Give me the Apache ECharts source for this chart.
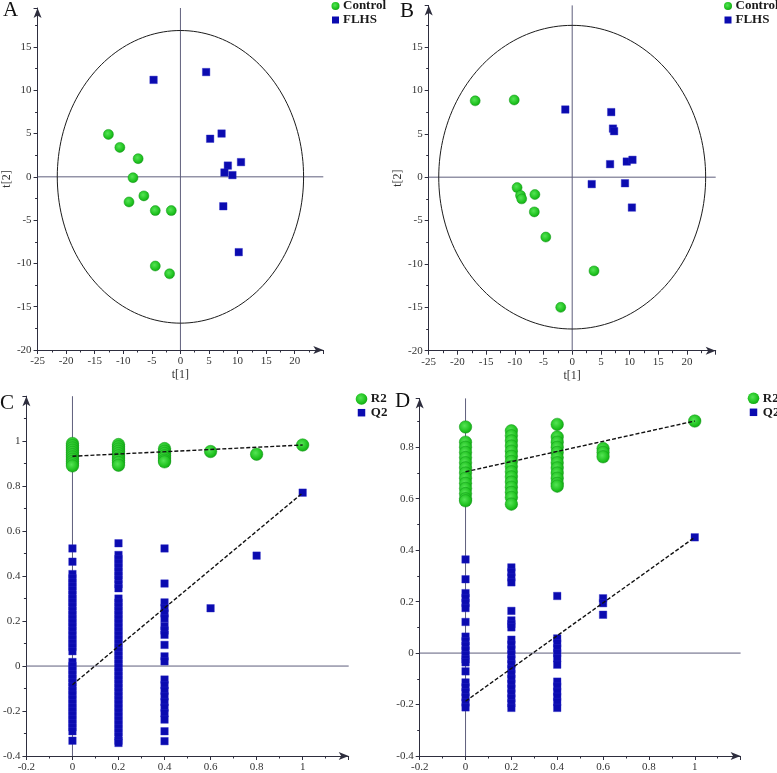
<!DOCTYPE html>
<html>
<head>
<meta charset="utf-8">
<script src="https://cdn.jsdelivr.net/npm/echarts@6/dist/echarts.min.js"></script>
<style>html,body{margin:0;padding:0;background:#fff}#c{width:777px;height:773px}</style>
</head>
<body>
<div id="c"></div>
<script>
// ---------- Panel A: score plot ----------
const aControlT1 = [-12.6, -10.6, -7.4, -8.3, -6.4, -9.0, -4.4, -1.6, -4.4, -1.9];
const aControlT2 = [4.9, 3.4, 2.1, -0.1, -2.2, -2.9, -3.9, -3.9, -10.3, -11.2];
const aFlhsT1 = [-4.7, 4.5, 5.2, 7.2, 8.3, 10.6, 7.7, 9.1, 7.5, 10.2];
const aFlhsT2 = [11.2, 12.1, 4.4, 5.0, 1.3, 1.7, 0.5, 0.2, -3.4, -8.7];
const aEllipse = [21.55, 16.9];
const aRangeT1 = [-25, 25];
const aRangeT2 = [-20, 19.5];
// ---------- Panel B: score plot ----------
const bControlT1 = [-16.9, -10.1, -9.6, -9.0, -8.8, -6.5, -6.6, -4.6, 3.8, -2.0];
const bControlT2 = [8.8, 8.9, -1.2, -2.1, -2.5, -2.0, -4.0, -6.9, -10.8, -15.0];
const bFlhsT1 = [-1.2, 6.8, 7.1, 7.3, 6.6, 9.5, 10.5, 3.4, 9.2, 10.4];
const bFlhsT2 = [7.8, 7.5, 5.6, 5.3, 1.5, 1.8, 2.0, -0.8, -0.7, -3.5];
const bEllipse = [23.25, 17.5];
const bRangeT1 = [-25, 25];
const bRangeT2 = [-20, 19.8];
// ---------- Panels C, D: permutation tests ----------
const permCols = [0, 0.2, 0.4, 0.6, 0.8, 1];
const cR2 = [
  [0.99, 0.98, 0.97, 0.96, 0.95, 0.94, 0.93, 0.92, 0.91, 0.90, 0.89],
  [0.985, 0.975, 0.965, 0.955, 0.945, 0.935, 0.925, 0.915, 0.905, 0.893],
  [0.967, 0.955, 0.945, 0.935, 0.925, 0.915, 0.908],
  [0.954], [0.942], [0.983]
];
const cQ2 = [
  [0.523, 0.464, 0.409, 0.39, 0.372, 0.355, 0.337, 0.318, 0.30, 0.283, 0.265, 0.246, 0.228, 0.21, 0.193, 0.175,
   0.157, 0.138, 0.12, 0.102, 0.085, 0.066, 0.018, 0.0, -0.018, -0.036, -0.055, -0.073, -0.092, -0.11, -0.128,
   -0.147, -0.165, -0.183, -0.20, -0.218, -0.236, -0.254, -0.272, -0.29, -0.332],
  [0.546, 0.494, 0.476, 0.458, 0.44, 0.421, 0.403, 0.385, 0.364, 0.346, 0.30, 0.282, 0.264, 0.246, 0.228, 0.21,
   0.192, 0.174, 0.156, 0.138, 0.12, 0.102, 0.084, 0.066, 0.048, 0.03, 0.012, -0.006, -0.024, -0.042, -0.06,
   -0.078, -0.096, -0.114, -0.132, -0.15, -0.168, -0.186, -0.204, -0.222, -0.24, -0.258, -0.276, -0.294, -0.312,
   -0.332, -0.342],
  [0.523, 0.367, 0.283, 0.258, 0.234, 0.212, 0.178, 0.158, 0.139, 0.094, 0.043, 0.021, -0.06, -0.085, -0.11,
   -0.135, -0.16, -0.185, -0.21, -0.238, -0.29, -0.334],
  [0.257], [0.491], [0.771]
];
const cR2Line = [0.933, 0.983];
const cQ2Line = [-0.083, 0.77];
const cRangeX = [-0.2, 1.2];
const cRangeY = [-0.4, 1.2];

const dR2 = [
  [0.879, 0.82, 0.80, 0.78, 0.76, 0.74, 0.72, 0.70, 0.68, 0.66, 0.64, 0.62, 0.60, 0.592],
  [0.864, 0.845, 0.825, 0.805, 0.785, 0.765, 0.745, 0.725, 0.705, 0.685, 0.665, 0.645, 0.625, 0.605, 0.579],
  [0.889, 0.84, 0.82, 0.80, 0.78, 0.76, 0.74, 0.72, 0.70, 0.68, 0.66, 0.649],
  [0.795, 0.78, 0.763], [], [0.902]
];
const dQ2 = [
  [0.364, 0.287, 0.233, 0.214, 0.195, 0.175, 0.121, 0.064, 0.046, 0.028, 0.01, -0.008, -0.024, -0.036, -0.071,
   -0.114, -0.133, -0.152, -0.172, -0.192, -0.211],
  [0.333, 0.314, 0.294, 0.275, 0.164, 0.127, 0.113, 0.10, 0.052, 0.033, 0.014, -0.005, -0.024, -0.043, -0.062,
   -0.081, -0.10, -0.119, -0.138, -0.157, -0.176, -0.195, -0.213],
  [0.222, 0.057, 0.038, 0.019, 0.0, -0.02, -0.045, -0.111, -0.13, -0.15, -0.17, -0.19, -0.213],
  [0.213, 0.194, 0.149], [], [0.45]
];
const dR2Line = [0.705, 0.902];
const dQ2Line = [-0.187, 0.45];
const dRangeX = [-0.2, 1.2];
const dRangeY = [-0.4, 0.99];

// ---------- styling ----------
const FONT = "'Times New Roman','Liberation Serif',serif";
const AXIS = '#2e2e3e';
const REF = '#5e5e7c';
const LABEL = '#333';
const BLUE = '#0b0bb0';
const green = () => ({type:'radial', x:0.42, y:0.4, r:0.62,
  colorStops:[{offset:0,color:'#55e455'},{offset:0.7,color:'#1fc21f'},{offset:1,color:'#14a414'}]});

function pairs(xs, ys){ return xs.map((x,i)=>[x, ys[i]]); }
function colPairs(cols){ const out=[]; cols.forEach((vals,i)=>vals.forEach(v=>out.push([permCols[i], v]))); return out; }
function ellipse(r){ const pts=[]; for(let a=0;a<=360;a+=2){ const t=a*Math.PI/180; pts.push([r[0]*Math.cos(t), r[1]*Math.sin(t)]); } return pts; }

function xAx(g, rng, interval, name){
  return {type:'value', gridIndex:g, min:rng[0], max:rng[1], interval, position:'bottom',
    name: name||'', nameLocation:'middle', nameGap:19,
    nameTextStyle:{fontFamily:FONT, fontSize:12, color:LABEL},
    axisLine:{onZero:false, symbol:['none','arrow'], symbolSize:[6,10], lineStyle:{color:AXIS,width:1}},
    axisTick:{show:true, length:4, lineStyle:{color:AXIS}},
    minorTick:{show:true, splitNumber:2, length:2.5, lineStyle:{color:AXIS}},
    axisLabel:{showMaxLabel:false, margin:6, color:LABEL, fontFamily:FONT, fontSize:11},
    splitLine:{show:false}, minorSplitLine:{show:false}};
}
function yAx(g, rng, interval, name){
  return {type:'value', gridIndex:g, min:rng[0], max:rng[1], interval, position:'left',
    name: name||'', nameLocation:'middle', nameGap:20, nameRotate:90,
    nameTextStyle:{fontFamily:FONT, fontSize:12, color:LABEL},
    axisLine:{onZero:false, symbol:['none','arrow'], symbolSize:[6,10], lineStyle:{color:AXIS,width:1}},
    axisTick:{show:true, length:4, lineStyle:{color:AXIS}},
    minorTick:{show:true, splitNumber:2, length:2.5, lineStyle:{color:AXIS}},
    axisLabel:{showMaxLabel:false, margin:6, color:LABEL, fontFamily:FONT, fontSize:11},
    splitLine:{show:false}, minorSplitLine:{show:false}};
}
function lineSeries(g, data, style, z){
  return {type:'line', xAxisIndex:g, yAxisIndex:g, data, showSymbol:false, symbol:'none', silent:true,
    clip:false, lineStyle:style, z: z||2, animation:false};
}
function circles(g, name, data, size){
  return {type:'scatter', name, xAxisIndex:g, yAxisIndex:g, data, symbol:'circle', symbolSize:size, z:4,
    itemStyle:{color:green(), borderColor:'#13991a', borderWidth:0.5, opacity:1}};
}
function squares(g, name, data, size){
  return {type:'scatter', name, xAxisIndex:g, yAxisIndex:g, data, symbol:'rect', symbolSize:size, z:3,
    itemStyle:{color:BLUE, borderColor:'#2a2ac8', borderWidth:0.4, opacity:1}};
}
function crossLines(g, rx, ry){
  return [lineSeries(g, [[rx[0],0],[rx[1],0]], {color:REF,width:1}, 1),
          lineSeries(g, [[0,ry[0]],[0,ry[1]]], {color:REF,width:1}, 1)];
}
function dashed(g, ends){
  return lineSeries(g, [[0,ends[0]],[1,ends[1]]], {color:'#111',width:1.4,type:[4,2]}, 6);
}

function legendItems(cx, cy1, cy2, r, sq, t1, t2){
  const txt = (x,y,t)=>({type:'text', x, y, z:10, style:{text:t, font:'bold 13px '+FONT, fill:'#1a1a1a',
      textVerticalAlign:'middle', verticalAlign:'middle', textAlign:'left', align:'left'}});
  return [
    {type:'circle', z:10, shape:{cx, cy:cy1, r}, style:{fill:green()}},
    txt(cx+r+3.5, cy1, t1),
    {type:'rect', z:10, shape:{x:cx-sq/2, y:cy2-sq/2, width:sq, height:sq}, style:{fill:BLUE}},
    txt(cx+r+3.5, cy2, t2)
  ];
}
function letter(x, y, t){
  return {type:'text', x, y, z:10, style:{text:t, font:'21px '+FONT, fill:'#111',
    textVerticalAlign:'middle', verticalAlign:'middle', textAlign:'left', align:'left'}};
}

const option = {
  animation:false,
  backgroundColor:'#fff',
  grid:[
    {left:33.3, top:8.0, width:290, height:342},
    {left:428.7, top:5.4, width:287, height:345.3},
    {left:24, top:396.2, width:324.7, height:360.5},
    {left:419.7, top:398.4, width:320.9, height:358.3}
  ],
  xAxis:[ xAx(0, aRangeT1, 5, 't[1]'), xAx(1, bRangeT1, 5, 't[1]'), xAx(2, cRangeX, 0.2), xAx(3, dRangeX, 0.2) ],
  yAxis:[ yAx(0, aRangeT2, 5, 't[2]'), yAx(1, bRangeT2, 5, 't[2]'), yAx(2, cRangeY, 0.2), yAx(3, dRangeY, 0.2) ],
  series:[
    lineSeries(0, ellipse(aEllipse), {color:'#1c1c1c', width:1}, 2),
    ...crossLines(0, aRangeT1, aRangeT2),
    circles(0, 'Control', pairs(aControlT1, aControlT2), 10),
    squares(0, 'FLHS', pairs(aFlhsT1, aFlhsT2), 7.5),

    lineSeries(1, ellipse(bEllipse), {color:'#1c1c1c', width:1}, 2),
    ...crossLines(1, bRangeT1, bRangeT2),
    circles(1, 'Control', pairs(bControlT1, bControlT2), 10),
    squares(1, 'FLHS', pairs(bFlhsT1, bFlhsT2), 7.5),

    ...crossLines(2, cRangeX, cRangeY),
    squares(2, 'Q2', colPairs(cQ2), 7.5),
    circles(2, 'R2', colPairs(cR2), 12.5),
    dashed(2, cR2Line), dashed(2, cQ2Line),

    ...crossLines(3, dRangeX, dRangeY),
    squares(3, 'Q2', colPairs(dQ2), 7.5),
    circles(3, 'R2', colPairs(dR2), 12.5),
    dashed(3, dR2Line), dashed(3, dQ2Line)
  ],
  graphic:[
    letter(3, 10.5, 'A'), letter(400, 11.5, 'B'), letter(0, 403.5, 'C'), letter(395, 401.5, 'D'),
    ...legendItems(335.5, 6, 20, 4, 7, 'Control', 'FLHS'),
    ...legendItems(728, 6, 20, 4, 7, 'Control', 'FLHS'),
    ...legendItems(361.5, 399, 412.7, 5.8, 7.5, 'R2', 'Q2'),
    ...legendItems(753.5, 398.3, 412.3, 5.8, 7.5, 'R2', 'Q2')
  ]
};
const chart = echarts.init(document.getElementById('c'), null, {renderer:'canvas'});
chart.setOption(option);
</script>
</body>
</html>
